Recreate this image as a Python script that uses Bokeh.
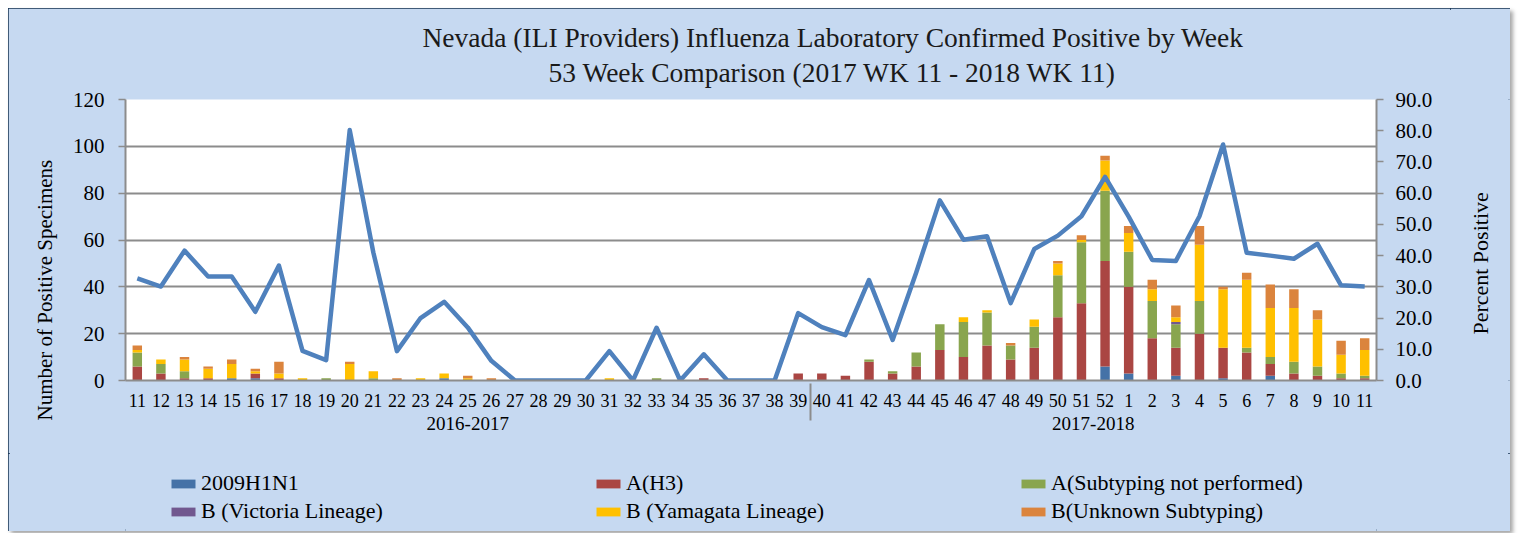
from math import pi
from bokeh.plotting import figure
from bokeh.layouts import column, row
from bokeh.models import (FactorRange, Range1d, LinearAxis, NumeralTickFormatter,
                          FixedTicker, Legend, LegendItem, Title, Label, ColumnDataSource)
from bokeh.embed import file_html
from bokeh.resources import INLINE

season_a = "2016-2017"
season_b = "2017-2018"
weeks_a = ["11", "12", "13", "14", "15", "16", "17", "18", "19", "20", "21", "22", "23", "24",
           "25", "26", "27", "28", "29", "30", "31", "32", "33", "34", "35", "36", "37", "38", "39"]
weeks_b = ["40", "41", "42", "43", "44", "45", "46", "47", "48", "49", "50", "51", "52",
           "1", "2", "3", "4", "5", "6", "7", "8", "9", "10", "11"]

series_names = ["2009H1N1", "A(H3)", "A(Subtyping not performed)",
                "B (Victoria Lineage)", "B (Yamagata Lineage)", "B(Unknown Subtyping)"]
series_colors = ["#4572A7", "#AA4643", "#89A54E", "#71588F", "#FFC000", "#DB843D"]

h1n1 = [0, 0, 0, 0, 1, 1, 0, 0, 0, 0, 0, 0, 0, 1, 0, 0, 0, 0, 0, 0, 0, 0, 0, 0, 0, 0, 0, 0, 0,
        0, 0, 0, 0, 0, 0, 0, 0, 0, 0, 0, 0, 6,
        3, 0, 2, 0, 1, 0, 2, 0, 0, 0, 0]
h3 = [6, 3, 1, 1, 0, 2, 1, 0, 0, 0, 0, 0, 0, 0, 0, 0, 0, 0, 0, 0, 0, 0, 0, 0, 1, 0, 0, 0, 3,
      3, 2, 8, 3, 6, 13, 10, 15, 9, 14, 27, 33, 45,
      37, 18, 12, 20, 13, 12, 5, 3, 2, 1, 1]
a_nosub = [6, 4, 3, 0, 0, 0, 0, 0, 1, 0, 1, 0, 0, 0, 0, 0, 0, 0, 0, 0, 0, 0, 1, 0, 0, 0, 0, 0, 0,
           0, 0, 1, 1, 6, 11, 15, 14, 6, 9, 18, 26, 30,
           15, 16, 10, 14, 0, 2, 3, 5, 4, 2, 1]
b_vic = [0, 0, 0, 0, 0, 0, 0, 0, 0, 0, 0, 0, 0, 0, 0, 0, 0, 0, 0, 0, 0, 0, 0, 0, 0, 0, 0, 0, 0,
         0, 0, 0, 0, 0, 0, 0, 0, 0, 0, 0, 0, 0,
         0, 0, 1, 0, 0, 0, 0, 0, 0, 0, 0]
b_yam = [1, 2, 5, 4, 6, 1, 2, 1, 0, 7, 3, 0, 1, 2, 1, 0, 0, 0, 0, 0, 1, 0, 0, 0, 0, 0, 0, 0, 0,
         0, 0, 0, 0, 0, 0, 2, 1, 0, 3, 5, 1, 13,
         8, 5, 2, 24, 25, 29, 21, 23, 20, 8, 11]
b_unk = [2, 0, 1, 1, 2, 1, 5, 0, 0, 1, 0, 1, 0, 0, 1, 1, 0, 0, 0, 0, 0, 0, 0, 0, 0, 0, 0, 0, 0,
         0, 0, 0, 0, 0, 0, 0, 0, 1, 0, 1, 2, 2,
         3, 4, 5, 8, 1, 3, 10, 8, 4, 6, 5]
pct_positive = [32.7, 30.1, 41.6, 33.3, 33.3, 22.0, 36.8, 9.5, 6.5, 80.2, 41.0, 9.4, 20.0, 25.2,
                17.0, 6.3, 0, 0, 0, 0, 9.4, 0, 16.9, 0, 8.4, 0, 0, 0, 21.6,
                17.1, 14.5, 32.2, 13.0, 34.6, 57.7, 45.1, 46.2, 24.8, 42.1, 46.4, 52.6, 65.2,
                52.5, 38.6, 38.3, 52.6, 75.6, 40.9, 40.0, 39.0, 43.8, 30.5, 30.1]

count_ticks = [0, 20, 40, 60, 80, 100, 120]
pct_ticks = [0, 10, 20, 30, 40, 50, 60, 70, 80, 90]

title_1 = "Nevada (ILI Providers) Influenza Laboratory Confirmed Positive by Week"
title_2 = "53 Week Comparison (2017 WK 11 - 2018 WK 11)"
y_title = "Number of Positive Specimens"
y2_title = "Percent Positive"

factors = [(season_a, w) for w in weeks_a] + [(season_b, w) for w in weeks_b]

source = ColumnDataSource(data=dict(
    x=factors, h1n1=h1n1, h3=h3, a_nosub=a_nosub, b_vic=b_vic, b_yam=b_yam, b_unk=b_unk,
    pct=pct_positive))
stack_cols = ["h1n1", "h3", "a_nosub", "b_vic", "b_yam", "b_unk"]

FONT = "Liberation Serif"
BG = "#C6D9F1"
GRID = "#8C8C8C"

x_range = FactorRange(*factors, range_padding=0, factor_padding=0,
                      group_padding=0, subgroup_padding=0)

p = figure(x_range=x_range, y_range=Range1d(0, 120), width=1442, height=445,
           output_backend="svg", toolbar_location=None,
           min_border_left=117, min_border_right=74, min_border_top=91,
           min_border_bottom=73)
p.background_fill_color = "white"
p.border_fill_color = BG
p.outline_line_color = None

p.extra_y_ranges = {"pct": Range1d(0, 90)}

bars = p.vbar_stack(stack_cols, x="x", width=0.4, color=series_colors, line_color=None,
                    source=source)
p.line(x="x", y="pct", source=source, y_range_name="pct", line_width=4.5,
       color="#4F81BD", line_join="round")

# axes
yax = p.yaxis[0]
yax.ticker = FixedTicker(ticks=count_ticks)
yax.minor_tick_line_color = None
yax.major_tick_in = 0
yax.major_tick_out = 7
yax.axis_line_color = GRID
yax.axis_line_width = 2
yax.major_tick_line_color = GRID
yax.major_tick_line_width = 1.5
yax.major_label_text_font = FONT
yax.major_label_text_font_size = "21px"
yax.major_label_text_color = "black"
yax.major_label_standoff = 14

rax = LinearAxis(y_range_name="pct", ticker=FixedTicker(ticks=pct_ticks),
                 formatter=NumeralTickFormatter(format="0.0"))
rax.minor_tick_line_color = None
rax.major_tick_in = 0
rax.major_tick_out = 7
rax.axis_line_color = GRID
rax.axis_line_width = 2
rax.major_tick_line_color = GRID
rax.major_tick_line_width = 1.5
rax.major_label_text_font = FONT
rax.major_label_text_font_size = "21px"
rax.major_label_text_color = "black"
rax.major_label_standoff = 12
p.add_layout(rax, "right")

xax = p.xaxis[0]
xax.axis_line_color = GRID
xax.axis_line_width = 2
xax.major_tick_line_color = None
xax.minor_tick_line_color = None
xax.major_label_text_font = FONT
xax.major_label_text_font_size = "18px"
xax.major_label_text_color = "black"
xax.major_label_standoff = 7
xax.group_text_font = FONT
xax.group_text_font_size = "19px"
xax.group_text_font_style = "normal"
xax.group_text_color = "black"
xax.separator_line_color = GRID
xax.separator_line_width = 2

p.xgrid.visible = False
p.ygrid.ticker = FixedTicker(ticks=count_ticks)
p.ygrid.grid_line_color = GRID
p.ygrid.grid_line_width = 2

# titles (second line first: it sits closest to the frame)
p.add_layout(Title(text=title_2, align="left", offset=423, standoff=24,
                   text_font=FONT, text_font_size="27.5px", text_font_style="normal",
                   text_color="#1a1a1a"), "above")
p.add_layout(Title(text=title_1, align="left", offset=297, standoff=-20,
                   text_font=FONT, text_font_size="27.5px", text_font_style="normal",
                   text_color="#1a1a1a"), "above")
p.add_layout(Title(text=y_title, align="left", offset=-40, standoff=26,
                   text_font=FONT, text_font_size="21px", text_font_style="normal",
                   text_color="black"), "left")

# narrow strip on the right that carries the secondary axis title
p3 = figure(width=60, height=445, x_range=Range1d(0, 1), y_range=Range1d(0, 90),
            x_axis_type=None, y_axis_type=None, output_backend="svg",
            toolbar_location=None, min_border_left=0, min_border_right=0,
            min_border_top=91, min_border_bottom=73)
p3.grid.visible = False
p3.background_fill_color = BG
p3.border_fill_color = BG
p3.outline_line_color = None
p3.add_layout(Label(x=0.5, y=37.5, text=y2_title, angle=pi / 2,
                    text_align="center", text_baseline="middle", text_font=FONT,
                    text_font_size="22px", text_color="black"))

# legend strip below the chart (its bars sit far outside its visible y range)
p2 = figure(width=1502, height=78, x_range=x_range, y_range=Range1d(500, 501),
            x_axis_type=None, y_axis_type=None, output_backend="svg",
            toolbar_location=None, min_border_left=117, min_border_right=134,
            min_border_top=0, min_border_bottom=0)
p2.grid.visible = False
p2.background_fill_color = BG
p2.border_fill_color = BG
p2.outline_line_color = None
legend_bars = p2.vbar_stack(stack_cols, x="x", width=0.4, color=series_colors,
                            line_color=None, source=source)

items = [LegendItem(label=n, renderers=[r]) for n, r in zip(series_names, legend_bars)]
legend = Legend(items=items, orientation="horizontal", ncols=3,
                location=(43, 7), padding=0, margin=0, spacing=2,
                glyph_width=30, glyph_height=11, label_standoff=3,
                label_width=390, label_height=24,
                label_text_font=FONT, label_text_font_size="22px",
                label_text_color="black",
                background_fill_alpha=0, border_line_color=None)
p2.add_layout(legend, "center")

layout = column(row(p, p3, spacing=0), p2, spacing=0, margin=(8, 0, 0, 8),
                styles={"outline": "2px solid #14304F", "outline-offset": "-2px",
                        "background-color": BG,
                        "box-shadow": "3px 3px 4px rgba(0,0,0,0.35)"})

open("out.html", "w").write(file_html(layout, INLINE))
